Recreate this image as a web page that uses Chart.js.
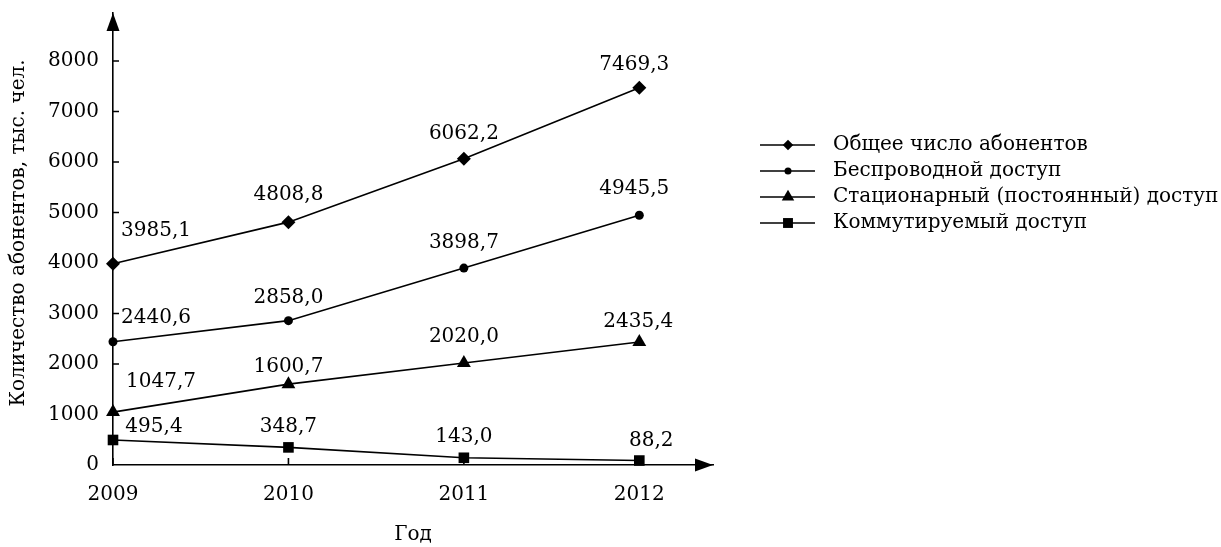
<!DOCTYPE html>
<html lang="ru">
<head>
<meta charset="utf-8">
<title>Количество абонентов</title>
<script src="https://cdn.jsdelivr.net/npm/chart.js@4.4.1/dist/chart.umd.min.js"></script>
<style>
  html, body { margin: 0; padding: 0; background: #fff; }
  #wrap { width: 1221px; height: 547px; position: relative; }
</style>
</head>
<body>
<div id="wrap"><canvas id="subsChart"></canvas></div>
<script>
const years = [2009, 2010, 2011, 2012];
const totalSubs = [3985.1, 4808.8, 6062.2, 7469.3];
const wirelessSubs = [2440.6, 2858.0, 3898.7, 4945.5];
const fixedSubs = [1047.7, 1600.7, 2020.0, 2435.4];
const dialupSubs = [495.4, 348.7, 143.0, 88.2];
const yTicks = [0, 1000, 2000, 3000, 4000, 5000, 6000, 7000, 8000];
const seriesNames = ['Общее число абонентов', 'Беспроводной доступ',
  'Стационарный (постоянный) доступ', 'Коммутируемый доступ'];
const yTitle = 'Количество абонентов, тыс. чел.';
const xTitle = 'Год';

// where each value label sits relative to its point, px
const labelShift = [
  [[43, -33], [0, -27], [0, -25], [-5, -23]],
  [[43, -24], [0, -23], [0, -25], [-5, -26]],
  [[48, -30], [0, -17], [0, -26], [-1, -20]],
  [[41, -13], [0, -21], [0, -21], [12, -20]]
];
const markers = ['rectRot', 'circle', 'triangle', 'rect'];
const markerSize = [7, 4.5, 8, 7.5];
const legendMarkerSize = [5.25, 3.5, 7.2, 7];

const FONT = '"DejaVu Serif"';
Chart.defaults.font.family = FONT;
Chart.defaults.font.size = 20;
Chart.defaults.color = '#000';

const allSeries = [totalSubs, wirelessSubs, fixedSubs, dialupSubs];
const fmt = v => v.toFixed(1).replace('.', ',');

const decor = {
  id: 'decor',
  afterDraw(chart) {
    const ctx = chart.ctx;
    const xs = chart.scales.x, ys = chart.scales.y;
    const x0 = xs.left, y0 = ys.bottom;
    ctx.save();
    ctx.fillStyle = '#000';
    ctx.strokeStyle = '#000';
    ctx.lineWidth = 1.6;

    // arrows
    ctx.beginPath();
    ctx.moveTo(x0, ys.top);
    ctx.lineTo(x0 - 6.5, ys.top + 18);
    ctx.lineTo(x0 + 6.5, ys.top + 18);
    ctx.closePath();
    ctx.fill();
    ctx.beginPath();
    ctx.moveTo(xs.right, y0);
    ctx.lineTo(xs.right - 18, y0 - 6.5);
    ctx.lineTo(xs.right - 18, y0 + 6.5);
    ctx.closePath();
    ctx.fill();

    // inward ticks
    ctx.beginPath();
    yTicks.forEach(v => {
      if (v === 0) return;
      const py = ys.getPixelForValue(v);
      ctx.moveTo(x0, py);
      ctx.lineTo(x0 + 6, py);
    });
    years.forEach(v => {
      const px = xs.getPixelForValue(v);
      ctx.moveTo(px, y0);
      ctx.lineTo(px, y0 - 7);
    });
    ctx.stroke();

    // value labels
    ctx.font = '20px ' + FONT;
    ctx.textAlign = 'center';
    ctx.textBaseline = 'middle';
    allSeries.forEach((vals, d) => {
      vals.forEach((v, i) => {
        const px = xs.getPixelForValue(years[i]);
        const py = ys.getPixelForValue(v);
        ctx.fillText(fmt(v), px + labelShift[d][i][0], py + labelShift[d][i][1]);
      });
    });

    // axis titles
    ctx.fillText(xTitle, (xs.left + xs.right) / 2, 535);
    ctx.save();
    ctx.translate(19, 233);
    ctx.rotate(-Math.PI / 2);
    ctx.fillText(yTitle, 0, 0);
    ctx.restore();

    // legend
    ctx.textAlign = 'left';
    chart.data.datasets.forEach((ds, d) => {
      const ly = 145 + d * 26;
      ctx.beginPath();
      ctx.moveTo(760, ly);
      ctx.lineTo(815, ly);
      ctx.stroke();
      Chart.helpers.drawPoint(ctx, {
        pointStyle: markers[d], radius: legendMarkerSize[d], borderWidth: 0
      }, 788, ly);
      ctx.fillText(ds.label, 833, ly);
    });
    ctx.restore();
  }
};

const datasets = allSeries.map((vals, d) => ({
  label: seriesNames[d],
  data: years.map((y, i) => ({ x: y, y: vals[i] })),
  borderColor: '#000',
  backgroundColor: '#000',
  borderWidth: 1.6,
  pointStyle: markers[d],
  pointRadius: markerSize[d],
  pointBorderWidth: 0,
  pointBackgroundColor: '#000',
  tension: 0,
  clip: false
}));

new Chart(document.getElementById('subsChart'), {
  type: 'line',
  data: { datasets },
  options: {
    responsive: true,
    maintainAspectRatio: false,
    animation: false,
    layout: { padding: { left: 0, right: 508, top: 13, bottom: 0 } },
    plugins: { legend: { display: false }, tooltip: { enabled: false } },
    scales: {
      x: {
        type: 'linear',
        min: 2009,
        max: 2012.42,
        afterBuildTicks: s => { s.ticks = years.map(v => ({ value: v })); },
        afterFit: s => { s.height = 82; s.paddingLeft = 0; s.paddingRight = 0; },
        ticks: { callback: v => String(v), padding: 18, maxRotation: 0, autoSkip: false, color: '#000' },
        grid: { display: false, drawTicks: false },
        border: { color: '#000', width: 1.6 }
      },
      y: {
        min: 0,
        max: 8950,
        afterBuildTicks: s => { s.ticks = yTicks.map(v => ({ value: v })); },
        afterFit: s => { s.width = 113; s.paddingTop = 0; s.paddingBottom = 0; },
        ticks: { callback: v => String(v), padding: 14, color: '#000' },
        grid: { display: false, drawTicks: false },
        border: { color: '#000', width: 1.6 }
      }
    }
  },
  plugins: [decor]
});
</script>
</body>
</html>
